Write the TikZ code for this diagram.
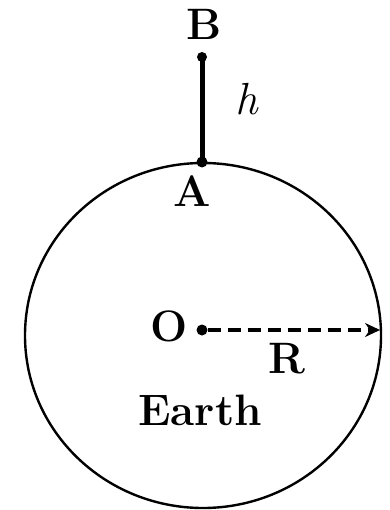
\documentclass[tikz,border=0pt]{standalone}
\usepackage{tikz}
\usetikzlibrary{calc,arrows.meta}
\begin{document}
\begin{tikzpicture}[x=1pt, y=-1pt,
	lbl/.style={font=\fontsize{44}{50}\bfseries, inner sep=0pt, anchor=base},
	dot/.style={circle, fill=black, inner sep=0pt, minimum size=11pt}]
	\useasboundingbox (0,0) rectangle (389,510);

	% the earth
	\node (origin) at (203, 335.5) {};
	\draw[line width=2.4pt] (origin.center) ellipse [x radius=178pt, y radius=172.5pt];

	% tower from A up to B
	\node[dot] at (202, 162) (pA) {};
	\node[dot, minimum size=10pt] at (202, 57) (pB) {};
	\draw[line width=5pt] (pA.center) -- (pB.center);

	% radius
	\node[dot] at (202, 330) (pO) {};
	\coordinate (rim) at (380, 330);
	\draw[line width=3.5pt, dash pattern=on 13pt off 7pt, -{Stealth[length=15pt, width=14pt]}] (pO) -- (rim);

	\node[lbl] at (204, 40) (lB) {B};
	\node[lbl] at (192, 207) (lA) {A};
	\node[lbl] at (169, 341) (lO) {O};
	\node[lbl] at (287, 373) (lR) {R};
	\node[lbl] at (200, 425) (lE) {Earth};
	\node[lbl, font=\fontsize{45}{50}\selectfont] at (247, 115) (lh) {\textit{h}};
\end{tikzpicture}
\end{document}
